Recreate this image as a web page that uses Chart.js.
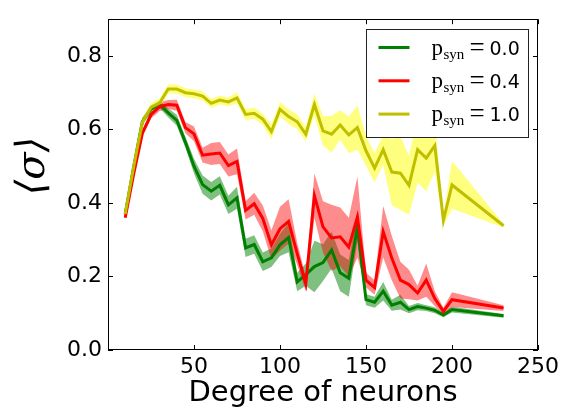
<!DOCTYPE html>
<html>
<head>
<meta charset="utf-8">
<script src="https://cdn.jsdelivr.net/npm/chart.js@4/dist/chart.umd.min.js"></script>
<style>
  html, body { margin: 0; padding: 0; background: #fff; }
  #wrap { width: 563px; height: 411px; }
</style>
</head>
<body>
<div id="wrap"><canvas id="grafico" width="563" height="411"></canvas></div>
<script>
// Grado de las neuronas (eje x)
const degrees = [10, 15, 20, 25, 30, 35, 40, 45, 50, 55, 60, 65, 70, 75, 80, 85, 90, 95, 100, 105,
  110, 115, 120, 125, 130, 135, 140, 145, 150, 155, 160, 165, 170, 175, 180, 185, 190, 195, 200, 230];

// <sigma> medio y desviación para cada p_syn
const sigma00 = [0.37, 0.50, 0.622, 0.655, 0.668, 0.645, 0.625, 0.565, 0.50, 0.45, 0.432, 0.448, 0.395, 0.414,
  0.278, 0.287, 0.24, 0.251, 0.286, 0.306, 0.185, 0.205, 0.227, 0.238, 0.272, 0.21, 0.195, 0.335,
  0.137, 0.13, 0.16, 0.122, 0.13, 0.11, 0.118, 0.114, 0.108, 0.095, 0.11, 0.093];
const sd00 = [0.005, 0.008, 0.01, 0.01, 0.01, 0.012, 0.015, 0.015, 0.02, 0.025, 0.025, 0.025, 0.025, 0.03,
  0.025, 0.025, 0.025, 0.025, 0.03, 0.04, 0.025, 0.03, 0.07, 0.05, 0.05, 0.05, 0.05, 0.04,
  0.015, 0.015, 0.025, 0.015, 0.02, 0.01, 0.01, 0.008, 0.008, 0.006, 0.008, 0.005];

const sigma04 = [0.36, 0.48, 0.59, 0.64, 0.662, 0.668, 0.666, 0.605, 0.588, 0.53, 0.533, 0.536, 0.502, 0.513,
  0.38, 0.398, 0.358, 0.286, 0.33, 0.35, 0.262, 0.18, 0.42, 0.335, 0.305, 0.308, 0.28, 0.362,
  0.19, 0.17, 0.322, 0.25, 0.19, 0.178, 0.155, 0.19, 0.14, 0.105, 0.137, 0.114];
const sd04 = [0.005, 0.008, 0.01, 0.01, 0.012, 0.012, 0.015, 0.015, 0.02, 0.02, 0.03, 0.03, 0.03, 0.035,
  0.025, 0.03, 0.035, 0.04, 0.06, 0.06, 0.03, 0.02, 0.06, 0.07, 0.09, 0.08, 0.08, 0.11,
  0.02, 0.02, 0.07, 0.06, 0.05, 0.04, 0.02, 0.045, 0.02, 0.01, 0.02, 0.008];

const sigma10 = [0.37, 0.50, 0.62, 0.66, 0.672, 0.71, 0.71, 0.70, 0.697, 0.691, 0.671, 0.68, 0.675, 0.686,
  0.641, 0.644, 0.628, 0.594, 0.655, 0.635, 0.621, 0.587, 0.668, 0.596, 0.587, 0.612, 0.585, 0.605,
  0.542, 0.495, 0.545, 0.484, 0.481, 0.448, 0.545, 0.522, 0.556, 0.353, 0.449, 0.338];
const sd10 = [0.005, 0.008, 0.01, 0.012, 0.012, 0.012, 0.012, 0.012, 0.012, 0.012, 0.012, 0.012, 0.012, 0.015,
  0.015, 0.015, 0.015, 0.02, 0.02, 0.02, 0.02, 0.02, 0.03, 0.04, 0.05, 0.04, 0.05, 0.06,
  0.04, 0.04, 0.04, 0.09, 0.1, 0.08, 0.09, 0.09, 0.07, 0.015, 0.065, 0.005];

const xTicks = [0, 50, 100, 150, 200, 250];
const yTicks = [0, 0.2, 0.4, 0.6, 0.8];
const legendLabels = ['0.0', '0.4', '1.0'];

const series = [
  { vals: sigma00, sd: sd00, line: '#008000', band: 'rgba(0,128,0,0.5)' },
  { vals: sigma04, sd: sd04, line: '#ff0000', band: 'rgba(255,0,0,0.45)' },
  { vals: sigma10, sd: sd10, line: '#bfbf00', band: 'rgba(255,255,0,0.5)' }
];

const pts = (vals, sd, sign) => degrees.map((d, i) => ({ x: d, y: vals[i] + sign * sd[i] }));

// Chart.js dibuja el índice 0 encima: primero las líneas (amarilla arriba), luego las bandas
const datasets = [];
series.slice().reverse().forEach(s => {
  datasets.push({ data: pts(s.vals, s.sd, 0), borderColor: s.line, borderWidth: 3,
    pointRadius: 0, fill: false, tension: 0 });
});
series.slice().reverse().forEach(s => {
  datasets.push({ data: pts(s.vals, s.sd, 1), borderWidth: 0, pointRadius: 0, fill: false });
  datasets.push({ data: pts(s.vals, s.sd, -1), borderWidth: 0, pointRadius: 0,
    fill: '-1', backgroundColor: s.band });
});

const frame = {
  id: 'frame',
  afterDatasetsDraw(chart) {
    const { ctx, chartArea: a, scales: { x, y } } = chart;
    ctx.save();
    ctx.strokeStyle = '#000';
    ctx.lineWidth = 1;
    ctx.beginPath();
    xTicks.forEach(v => {
      const px = Math.round(x.getPixelForValue(v)) + 0.5;
      ctx.moveTo(px, a.bottom); ctx.lineTo(px, a.bottom - 5);
      ctx.moveTo(px, a.top); ctx.lineTo(px, a.top + 5);
    });
    yTicks.forEach(v => {
      const py = Math.round(y.getPixelForValue(v)) + 0.5;
      ctx.moveTo(a.left, py); ctx.lineTo(a.left + 5, py);
      ctx.moveTo(a.right, py); ctx.lineTo(a.right - 5, py);
    });
    ctx.stroke();
    ctx.strokeRect(Math.round(a.left) + 0.5, Math.round(a.top) + 0.5,
      Math.round(a.right - a.left) - 1, Math.round(a.bottom - a.top) - 1);

    // leyenda
    const bx = Math.round(a.right) - 172 + 0.5, by = Math.round(a.top) + 10 + 0.5;
    ctx.fillStyle = '#fff';
    ctx.fillRect(bx, by, 162, 108);
    ctx.strokeStyle = '#222';
    ctx.strokeRect(bx, by, 162, 108);
    series.forEach((s, i) => {
      const cy = by + 18 + i * 33.3;
      ctx.strokeStyle = s.line;
      ctx.lineWidth = 3;
      ctx.beginPath();
      ctx.moveTo(bx + 12, cy); ctx.lineTo(bx + 43, cy);
      ctx.stroke();
      const base = cy + 7;
      ctx.fillStyle = '#000';
      ctx.textBaseline = 'alphabetic';
      ctx.textAlign = 'left';
      ctx.font = '23px "Liberation Serif"';
      ctx.fillText('p', bx + 65, base);
      ctx.font = '15px "Liberation Serif"';
      ctx.fillText('syn', bx + 77, base + 4);
      ctx.font = '27px "Liberation Serif"';
      ctx.fillText('=', bx + 103, base + 1);
      ctx.font = '19px "DejaVu Sans"';
      ctx.fillText(legendLabels[i], bx + 123, base);
    });
    ctx.restore();
  },
  afterDraw(chart) {
    const { ctx, chartArea: a } = chart;
    ctx.save();
    ctx.fillStyle = '#000';
    ctx.textAlign = 'center';
    ctx.textBaseline = 'alphabetic';
    ctx.font = '29px "DejaVu Sans"';
    ctx.fillText('Degree of neurons', (a.left + a.right) / 2, 401);
    ctx.translate(34, 166);
    ctx.rotate(-Math.PI / 2);
    ctx.textBaseline = 'middle';
    ctx.font = 'italic 40px "DejaVu Serif"';
    ctx.fillText('⟨σ⟩', 0, 0);
    ctx.restore();
  }
};

new Chart(document.getElementById('grafico'), {
  type: 'line',
  data: { datasets },
  options: {
    responsive: false,
    animation: false,
    layout: { padding: { top: 13, right: 24, left: 0, bottom: 0 } },
    plugins: { legend: { display: false }, tooltip: { enabled: false } },
    scales: {
      x: {
        type: 'linear', min: 0, max: 250,
        grid: { display: false, drawTicks: false },
        border: { display: false },
        afterBuildTicks: s => { s.ticks = xTicks.map(v => ({ value: v })); },
        afterFit: s => { s.height = 61; },
        ticks: {
          color: '#000', padding: 4, maxRotation: 0,
          font: { family: 'DejaVu Sans', size: 22 },
          callback: v => v === 0 ? '' : String(v)
        }
      },
      y: {
        type: 'linear', min: 0, max: 0.9,
        grid: { display: false, drawTicks: false },
        border: { display: false },
        afterBuildTicks: s => { s.ticks = yTicks.map(v => ({ value: v })); },
        afterFit: s => { s.width = 108; },
        ticks: {
          color: '#000', padding: 6,
          font: { family: 'DejaVu Sans', size: 22 },
          callback: v => v.toFixed(1)
        }
      }
    }
  },
  plugins: [frame]
});
</script>
</body>
</html>
